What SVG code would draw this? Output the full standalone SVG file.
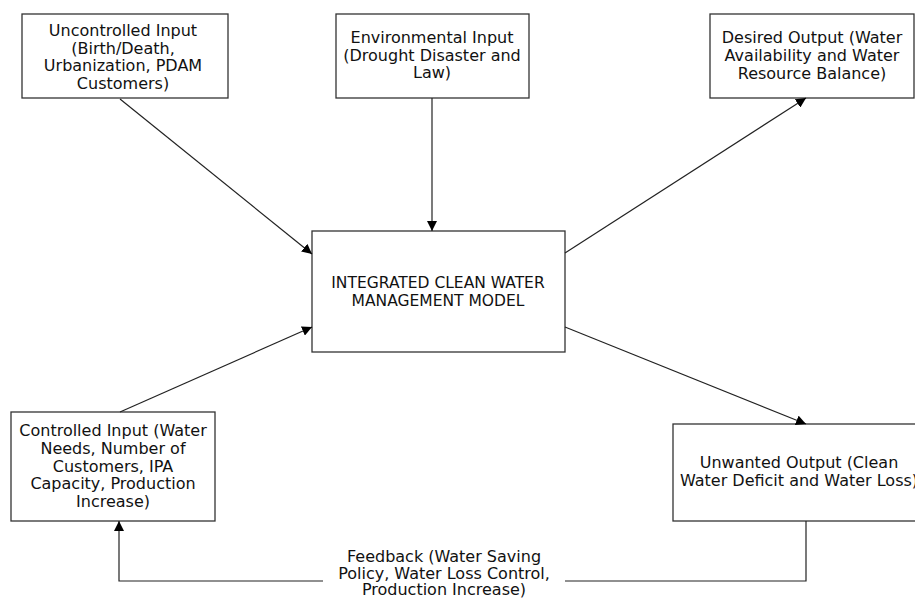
<svg xmlns="http://www.w3.org/2000/svg" width="915" height="598" viewBox="0 0 915 598">
<defs>
<style>
.box{fill:#fff;stroke:#333;stroke-width:1.3}
.lbl{font-family:"DejaVu Sans",Verdana,sans-serif;font-size:16px;fill:#111;text-anchor:middle}
.ctr{font-family:"DejaVu Sans",Verdana,sans-serif;font-size:15.5px;fill:#111;text-anchor:middle}
.con{fill:none;stroke:#222;stroke-width:1.2}
</style>
<marker id="ah" viewBox="0 0 10 10" refX="10" refY="5" markerWidth="10" markerHeight="10" markerUnits="userSpaceOnUse" orient="auto">
<path d="M0,0 L10,5 L0,10 z" fill="#000"/>
</marker>
</defs>
<rect width="915" height="598" fill="#fff"/>
<g id="uncontrolled">
<rect class="box" x="22" y="14" width="206" height="84"/>
<text class="lbl" x="123" y="36">Uncontrolled Input</text>
<text class="lbl" x="123" y="54">(Birth/Death,</text>
<text class="lbl" x="123" y="71">Urbanization, PDAM</text>
<text class="lbl" x="123" y="89">Customers)</text>
</g>
<g id="environmental">
<rect class="box" x="336" y="14" width="193" height="84"/>
<text class="lbl" x="432" y="43">Environmental Input</text>
<text class="lbl" x="432" y="61">(Drought Disaster and</text>
<text class="lbl" x="432" y="78">Law)</text>
</g>
<g id="desired">
<rect class="box" x="710" y="14" width="204" height="84"/>
<text class="lbl" x="812" y="43">Desired Output (Water</text>
<text class="lbl" x="812" y="61">Availability and Water</text>
<text class="lbl" x="812" y="79">Resource Balance)</text>
</g>
<g id="model">
<rect class="box" x="312" y="231" width="253" height="121"/>
<text class="ctr" x="438" y="288">INTEGRATED CLEAN WATER</text>
<text class="ctr" x="438" y="306">MANAGEMENT MODEL</text>
</g>
<g id="controlled">
<rect class="box" x="11" y="412" width="204" height="109"/>
<text class="lbl" x="113" y="436">Controlled Input (Water</text>
<text class="lbl" x="113" y="454">Needs, Number of</text>
<text class="lbl" x="113" y="472">Customers, IPA</text>
<text class="lbl" x="113" y="489">Capacity, Production</text>
<text class="lbl" x="113" y="507">Increase)</text>
</g>
<g id="unwanted">
<rect class="box" x="673" y="424" width="251" height="97"/>
<text class="lbl" x="799" y="468">Unwanted Output (Clean</text>
<text class="lbl" x="799" y="486">Water Deficit and Water Loss)</text>
</g>
<g id="feedback-label">
<text class="lbl" x="444" y="562">Feedback (Water Saving</text>
<text class="lbl" x="444" y="579">Policy, Water Loss Control,</text>
<text class="lbl" x="444" y="595">Production Increase)</text>
</g>
<g id="connectors">
<line class="con" x1="120" y1="99" x2="312" y2="254" marker-end="url(#ah)"/>
<line class="con" x1="432" y1="98" x2="432" y2="231" marker-end="url(#ah)"/>
<line class="con" x1="565" y1="253" x2="806" y2="98" marker-end="url(#ah)"/>
<line class="con" x1="120" y1="412" x2="312" y2="327" marker-end="url(#ah)"/>
<line class="con" x1="565" y1="327" x2="806" y2="424" marker-end="url(#ah)"/>
<polyline class="con" points="806,521 806,581 565,581"/>
<polyline class="con" points="323,581 119,581 119,521" marker-end="url(#ah)"/>
</g>
</svg>
